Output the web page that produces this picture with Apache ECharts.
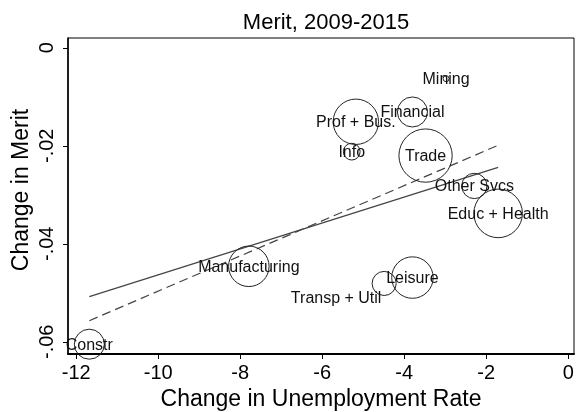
<!DOCTYPE html>
<html>
<head>
<meta charset="utf-8">
<script src="https://cdn.jsdelivr.net/npm/echarts@6/dist/echarts.min.js"></script>
<style>
html,body{margin:0;padding:0;background:#fff;}
#chart{width:584px;height:412px;}
</style>
</head>
<body>
<div id="chart"></div>
<script>
// Industries
var industries = ["Constr","Manufacturing","Transp + Util","Leisure","Prof + Bus.","Info","Financial","Mining","Trade","Other Svcs","Educ + Health"];
// Change in unemployment rate
var unempChange = [-11.68,-7.79,-4.49,-3.80,-5.18,-5.28,-3.80,-2.98,-3.48,-2.29,-1.71];
// Change in merit
var meritChange = [-0.0605,-0.0446,-0.0481,-0.0469,-0.0151,-0.0212,-0.0131,-0.0063,-0.0220,-0.0282,-0.0338];
// Employment weight (bubble area)
var weights = [2.25,4.1,1.45,4.3,5.15,0.7,2.25,0.09,7.1,1.6,5.9];
// Fit lines (endpoints)
var fitX = [-11.68,-1.71];
var fitSolidY = [-0.0508,-0.0244];
var fitDashedY = [-0.0557,-0.0199];
// Tick labels
var xTicks = [-12,-10,-8,-6,-4,-2,0];
var yTicks = [0,-0.02,-0.04,-0.06];
var yTickLabels = ["0","-.02","-.04","-.06"];
var yTitle = "Change in Merit";

var FONT = "Liberation Sans, Arial, sans-serif";
var pts = industries.map(function(n,i){
  var d = {name:n, value:[unempChange[i], meritChange[i], weights[i]]};
  if (n === "Transp + Util") d.label = {offset:[-48,15]};
  return d;
});

var chart = echarts.init(document.getElementById('chart'), null, {renderer:'canvas'});
chart.setOption({
  animation:false,
  backgroundColor:'#fff',
  title:{text:"Merit, 2009-2015", left:321, top:7, textAlign:'center',
    textStyle:{fontFamily:FONT,fontSize:22,fontWeight:'normal',color:'#000'}},
  graphic:[{type:'text',x:22,y:190,rotation:Math.PI/2,
    style:{text:yTitle,fontFamily:FONT,fontSize:23,fill:'#000',align:'center',verticalAlign:'middle'}}],
  grid:{left:68,top:38,right:10,bottom:58,show:true,borderColor:'#000',borderWidth:1,backgroundColor:'transparent',
    containLabel:false,outerBoundsMode:'none'},
  xAxis:{type:'value',min:-12.2,max:0.14,
    name:"Change in Unemployment Rate",nameLocation:'middle',nameGap:31,
    nameTextStyle:{fontFamily:FONT,fontSize:23,color:'#000'},
    axisLine:{show:true,onZero:false,lineStyle:{color:'#000',width:2}},
    axisTick:{show:true,length:5,customValues:xTicks,lineStyle:{color:'#000'}},
    axisLabel:{customValues:xTicks,margin:9,fontFamily:FONT,fontSize:20,color:'#000'},
    splitLine:{show:false}},
  yAxis:{type:'value',min:-0.0625,max:0.002,
    axisLine:{show:true,onZero:false,lineStyle:{color:'#000',width:1.5}},
    axisTick:{show:true,length:5,customValues:yTicks,lineStyle:{color:'#000'}},
    axisLabel:{customValues:yTicks,rotate:90,margin:11,fontFamily:FONT,fontSize:20,color:'#000',
      formatter:function(v){var i=yTicks.findIndex(function(t){return Math.abs(t-v)<1e-9;});return i>=0?yTickLabels[i]:'';}},
    splitLine:{show:false}},
  series:[
    {type:'line',data:[[fitX[0],fitSolidY[0]],[fitX[1],fitSolidY[1]]],symbol:'none',
      lineStyle:{color:'#444',width:1.2,type:'solid'},z:2},
    {type:'line',data:[[fitX[0],fitDashedY[0]],[fitX[1],fitDashedY[1]]],symbol:'none',
      lineStyle:{color:'#444',width:1.2,type:[9,5]},z:2},
    {type:'scatter',data:pts,
      symbolSize:function(v){return 20*Math.sqrt(v[2]);},
      itemStyle:{color:'rgba(0,0,0,0)',borderColor:'#222',borderWidth:1,opacity:1},
      label:{show:true,position:'inside',offset:[0,1],formatter:'{b}',fontFamily:FONT,fontSize:16,color:'#111'},
      z:3}
  ]
});
</script>
</body>
</html>
